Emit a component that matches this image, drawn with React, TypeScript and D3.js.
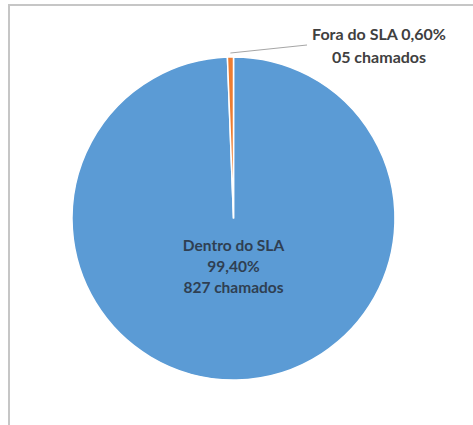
import React from "react";
import * as d3 from "d3";

const categories = ["Dentro do SLA", "Fora do SLA"];
const counts = [827, 5];
const percentLabels = ["99,40%", "0,60%"];
const countLabels = ["827 chamados", "05 chamados"];
const colors = ["#5B9BD5", "#ED7D31"];

const W = 473;
const H = 425;
const cx = 233.5;
const cy = 218.5;
const R = 161.5;

export default function App() {
  const pie = d3
    .pie<number>()
    .sort(null)
    .startAngle(0)
    .endAngle(2 * Math.PI)
    .value((d) => d);
  const arcs = pie(counts);
  const arc = d3.arc<d3.PieArcDatum<number>>().innerRadius(0).outerRadius(R);
  const outer = d3.arc<d3.PieArcDatum<number>>().innerRadius(R + 4).outerRadius(R + 4);
  const fora = arcs[1];
  const [lx, ly] = outer.centroid(fora);
  const font = "Lato, 'Open Sans', sans-serif";

  return (
    <svg
      width={W}
      height={H}
      style={{ position: "absolute", left: 0, top: 0, background: "#fff" }}
    >
      <rect x={9} y={5} width={W} height={H} fill="#fff" stroke="#c6c6c6" strokeWidth={2} />
      <g transform={`translate(${cx},${cy})`}>
        {arcs.map((a, i) => (
          <path key={categories[i]} d={arc(a) || ""} fill={colors[i]} stroke="#fff" strokeWidth={1.5} />
        ))}
        <line x1={lx} y1={ly} x2={307 - cx} y2={45 - cy} stroke="#a6a6a6" strokeWidth={1} />
      </g>
      <text x={379} y={40} textAnchor="middle" fontFamily={font} fontWeight={700} fontSize={16} fill="#404040">
        {`${categories[1]} ${percentLabels[1]}`}
      </text>
      <text x={379} y={63} textAnchor="middle" fontFamily={font} fontWeight={700} fontSize={16} fill="#404040">
        {countLabels[1]}
      </text>
      <g fontFamily={font} fontWeight={700} fontSize={15.5} fill="#2f3f52" textAnchor="middle">
        <text x={cx} y={251}>{categories[0]}</text>
        <text x={cx} y={272}>{percentLabels[0]}</text>
        <text x={cx} y={293}>{countLabels[0]}</text>
      </g>
    </svg>
  );
}
